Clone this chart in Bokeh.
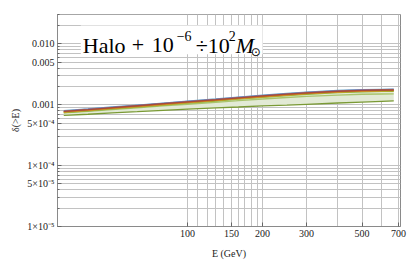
import math
from bokeh.plotting import figure
from bokeh.models import FixedTicker, BoxAnnotation, Label
from bokeh.embed import file_html
from bokeh.resources import INLINE

# ---- data ----
energy = [32, 40, 50, 63, 80, 100, 130, 160, 200, 250, 300, 400, 500, 600, 670]
delta_a = [0.800e-3, 0.855e-3, 0.920e-3, 0.990e-3, 1.070e-3, 1.150e-3, 1.250e-3, 1.340e-3, 1.440e-3, 1.540e-3, 1.620e-3, 1.720e-3, 1.780e-3, 1.800e-3, 1.810e-3]
delta_b = [0.790e-3, 0.845e-3, 0.910e-3, 0.978e-3, 1.057e-3, 1.136e-3, 1.233e-3, 1.322e-3, 1.420e-3, 1.518e-3, 1.597e-3, 1.695e-3, 1.755e-3, 1.776e-3, 1.786e-3]
delta_c = [0.780e-3, 0.834e-3, 0.897e-3, 0.965e-3, 1.043e-3, 1.120e-3, 1.216e-3, 1.303e-3, 1.400e-3, 1.497e-3, 1.574e-3, 1.671e-3, 1.730e-3, 1.751e-3, 1.762e-3]
delta_d = [0.770e-3, 0.823e-3, 0.885e-3, 0.951e-3, 1.028e-3, 1.104e-3, 1.198e-3, 1.284e-3, 1.379e-3, 1.474e-3, 1.550e-3, 1.645e-3, 1.703e-3, 1.725e-3, 1.735e-3]
delta_e = [0.760e-3, 0.812e-3, 0.872e-3, 0.937e-3, 1.012e-3, 1.087e-3, 1.180e-3, 1.263e-3, 1.357e-3, 1.450e-3, 1.524e-3, 1.618e-3, 1.675e-3, 1.697e-3, 1.708e-3]
delta_f = [0.748e-3, 0.798e-3, 0.857e-3, 0.920e-3, 0.993e-3, 1.065e-3, 1.155e-3, 1.236e-3, 1.327e-3, 1.417e-3, 1.489e-3, 1.580e-3, 1.636e-3, 1.658e-3, 1.668e-3]
delta_g = [0.735e-3, 0.780e-3, 0.834e-3, 0.892e-3, 0.958e-3, 1.022e-3, 1.100e-3, 1.170e-3, 1.245e-3, 1.318e-3, 1.375e-3, 1.445e-3, 1.490e-3, 1.505e-3, 1.512e-3]
delta_h = [0.670e-3, 0.700e-3, 0.735e-3, 0.770e-3, 0.810e-3, 0.850e-3, 0.890e-3, 0.920e-3, 0.960e-3, 0.990e-3, 1.020e-3, 1.070e-3, 1.110e-3, 1.140e-3, 1.160e-3]

# drawing order: bottom of the bundle first, brown/red lines last (on top)
series = [delta_h, delta_g, delta_f, delta_e, delta_a, delta_b, delta_d, delta_c]
series_colors = ["#7A9A35", "#A9C46C", "#8FB032", "#E19C24", "#5D9EC7", "#8778B3", "#C56E1A", "#A34B3E"]

y_ticks = [1e-5, 5e-5, 1e-4, 5e-4, 1e-3, 5e-3, 1e-2]
y_tick_labels = ["1×10⁻⁵", "5×10⁻⁵", "1×10⁻⁴", "5×10⁻⁴", "0.001", "0.005", "0.010"]
x_ticks = [100, 150, 200, 300, 500, 700]
x_tick_labels = ["100", "150", "200", "300", "500", "700"]
x_grid = [100, 110, 120, 130, 140, 150, 160, 170, 180, 190, 200, 300, 400, 500, 600, 700]

X0, X1 = 30.2, 713.0
Y0, Y1 = 1e-5, 0.0305

y_grid = []
for k in (-5, -4, -3, -2):
    for m in range(1, 10):
        v = m * 10.0 ** k
        if v <= Y1:
            y_grid.append(v)
y_minor = [v for v in y_grid if v not in y_ticks]

# frame geometry in window pixels (for placing the title)
FL, FR, FT, FB = 56.7, 400.0, 14.0, 226.7
W, H = 407, 261


def ex(px):
    return 10 ** (math.log10(X0) + (px - FL) / (FR - FL) * math.log10(X1 / X0))


def dy(py):
    return 10 ** (math.log10(Y0) + (FB - py) / (FB - FT) * math.log10(Y1 / Y0))


p = figure(width=W, height=H, x_axis_type="log", y_axis_type="log",
           x_range=(X0, X1), y_range=(Y0, Y1),
           output_backend="svg", toolbar_location=None,
           min_border_left=round(FL), min_border_right=W - round(FR),
           min_border_top=round(FT), min_border_bottom=H - round(FB))
p.background_fill_color = "white"
p.border_fill_color = "white"
p.outline_line_color = "#8a8a8a"

p.xgrid.ticker = FixedTicker(ticks=x_grid)
p.ygrid.ticker = FixedTicker(ticks=y_grid)
for g in (p.xgrid, p.ygrid):
    g.grid_line_color = "#c2c2c2"
    g.grid_line_width = 1

p.xaxis.ticker = FixedTicker(ticks=x_ticks)
p.xaxis.major_label_overrides = {float(k): v for k, v in zip(x_ticks, x_tick_labels)}
p.yaxis.ticker = FixedTicker(ticks=y_ticks, minor_ticks=y_minor)
p.yaxis.major_label_overrides = {k: v for k, v in zip(y_ticks, y_tick_labels)}

SERIF = "Liberation Serif"
for ax in (p.xaxis, p.yaxis):
    ax.axis_line_color = "#8a8a8a"
    ax.major_tick_line_color = "#666666"
    ax.minor_tick_line_color = "#666666"
    ax.major_tick_in = 4
    ax.major_tick_out = 0
    ax.minor_tick_in = 2
    ax.minor_tick_out = 0
    ax.major_label_text_font = SERIF
    ax.major_label_text_font_size = "10px"
    ax.major_label_text_color = "#222222"
    ax.major_label_standoff = 3
    ax.axis_label_text_font = SERIF
    ax.axis_label_text_font_size = "10px"
    ax.axis_label_text_font_style = "normal"
    ax.axis_label_text_color = "#222222"

p.xaxis.axis_label = "E (GeV)"
p.xaxis.axis_label_standoff = 8
p.yaxis.axis_label = "δ(>E)"
p.yaxis.axis_label_standoff = 3

# envelope fill
p.varea(x=energy, y1=delta_h, y2=delta_a, fill_color="#e2ead5", fill_alpha=1.0)
for s, c in zip(series, series_colors):
    p.line(energy, s, line_color=c, line_width=1.3)

# title box and text
box = BoxAnnotation(left=ex(80), right=ex(262), top=dy(25), bottom=dy(54),
                    fill_color="white", fill_alpha=1.0, line_alpha=0)
p.add_layout(box)

pieces = [
    ("Halo", 82, 45, "22px", "normal", SERIF),
    ("+", 131, 45, "22px", "normal", SERIF),
    ("10", 151, 45, "22px", "normal", SERIF),
    ("−6", 176, 36, "14px", "normal", SERIF),
    ("÷10", 195, 45, "22px", "normal", SERIF),
    ("2", 228, 36, "14px", "normal", SERIF),
    ("M", 235, 45, "22px", "italic", SERIF),
    ("⊙", 250, 52, "12px", "normal", "DejaVu Sans"),
]
for txt, px, py, fs, st, fnt in pieces:
    p.add_layout(Label(x=ex(px), y=dy(py), text=txt, text_font=fnt,
                       text_font_size=fs, text_font_style=st, text_color="black",
                       text_align="left", text_baseline="alphabetic"))

open("out.html", "w").write(file_html(p, INLINE))
